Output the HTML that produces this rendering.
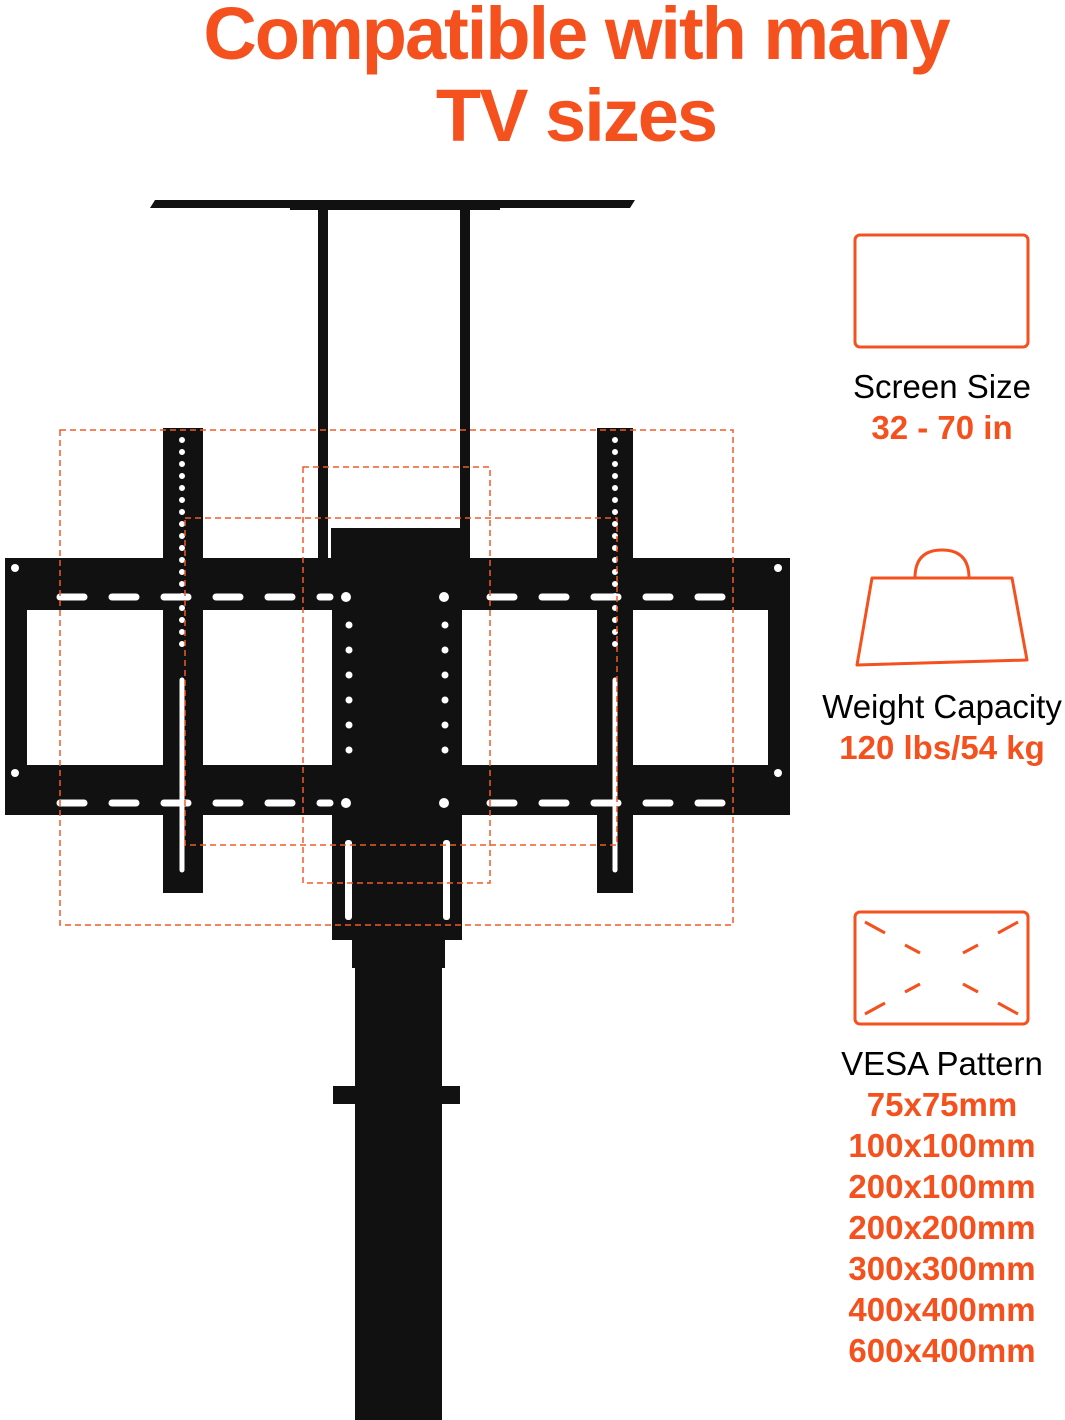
<!DOCTYPE html>
<html><head><meta charset="utf-8"><style>
body{margin:0;width:1065px;height:1420px;background:#fff;position:relative;overflow:hidden;font-family:"Liberation Sans",sans-serif}
.t{position:absolute;left:0;width:1152px;text-align:center;color:#f4511e;font-weight:bold;font-size:74px;letter-spacing:-2px;line-height:80px}
.r{position:absolute;left:800px;width:284px;text-align:center;font-size:33px;line-height:41px}
.o{color:#f4511e;font-weight:bold}
</style></head><body>
<div class="t" style="top:-6px">Compatible with many</div>
<div class="t" style="top:76px">TV sizes</div>
<svg width="1065" height="1420" style="position:absolute;left:0;top:0">
<g fill="#111">
<polygon points="150,208 155,200 635,200 630,208"/>
<rect x="290" y="205" width="210" height="5"/>
<rect x="318" y="205" width="10" height="355"/>
<rect x="460" y="205" width="10" height="355"/>
<rect x="331" y="528" width="131" height="34"/>
<rect x="332" y="560" width="130" height="380"/>
<rect x="352" y="938" width="93" height="30"/>
<rect x="355" y="965" width="87" height="455"/>
<rect x="333" y="1086" width="127" height="18"/>
<rect x="5" y="558" width="785" height="52"/>
<rect x="5" y="765" width="785" height="50"/>
<rect x="5" y="558" width="22" height="257"/>
<rect x="768" y="558" width="22" height="257"/>
<rect x="163" y="428" width="40" height="465"/>
<rect x="597" y="428" width="36" height="465"/>
</g>
<g stroke="#fff" stroke-width="7" stroke-linecap="round" stroke-dasharray="24 28">
<line x1="60" y1="597" x2="330" y2="597"/><line x1="490" y1="597" x2="740" y2="597"/>
<line x1="60" y1="803" x2="330" y2="803"/><line x1="490" y1="803" x2="740" y2="803"/>
</g>
<g fill="#fff">
<circle cx="15" cy="568" r="4"/><circle cx="778" cy="568" r="4"/><circle cx="15" cy="773" r="4"/><circle cx="778" cy="773" r="4"/>
<circle cx="346" cy="597" r="5"/><circle cx="444" cy="597" r="5"/><circle cx="346" cy="803" r="5"/><circle cx="444" cy="803" r="5"/>
<circle cx="349" cy="625" r="3.5"/><circle cx="349" cy="650" r="3.5"/><circle cx="349" cy="675" r="3.5"/><circle cx="349" cy="700" r="3.5"/><circle cx="349" cy="725" r="3.5"/><circle cx="349" cy="750" r="3.5"/>
<circle cx="445" cy="625" r="3.5"/><circle cx="445" cy="650" r="3.5"/><circle cx="445" cy="675" r="3.5"/><circle cx="445" cy="700" r="3.5"/><circle cx="445" cy="725" r="3.5"/><circle cx="445" cy="750" r="3.5"/>
<rect x="345" y="840" width="7" height="80" rx="3"/><rect x="443" y="840" width="7" height="80" rx="3"/>
</g>
<g stroke="#fff" stroke-width="6" stroke-linecap="round" stroke-dasharray="0 12">
<line x1="182" y1="440" x2="182" y2="650"/><line x1="615" y1="440" x2="615" y2="650"/>
</g>
<g stroke="#fff" stroke-width="5" stroke-linecap="round">
<line x1="182" y1="680" x2="182" y2="870"/><line x1="615" y1="680" x2="615" y2="870"/>
</g>
<g fill="none" stroke="#f05a28" stroke-width="1.5" stroke-dasharray="6 4">
<rect x="60" y="430" width="673" height="495"/>
<rect x="303" y="467" width="187" height="416"/>
<rect x="185" y="518" width="432" height="327"/>
</g>
<g fill="none" stroke="#f4511e" stroke-width="3">
<rect x="855" y="235" width="173" height="112" rx="5"/>
<path d="M915,578 Q915,550 942,550 Q969,550 969,578"/>
<path d="M872,578 L1012,578 L1027,660 L857,665 Z" stroke-linejoin="round"/>
<rect x="855" y="912" width="173" height="112" rx="5"/>
<path d="M865,922 l20,11 M905,945 l15,8 M1018,922 l-20,11 M978,945 l-15,8 M865,1014 l20,-11 M905,992 l15,-8 M1018,1014 l-20,-11 M978,992 l-15,-8"/>
</g>
</svg>
<div class="r" style="top:366px">Screen Size<br><span class="o">32 - 70 in</span></div>
<div class="r" style="top:686px">Weight Capacity<br><span class="o">120 lbs/54 kg</span></div>
<div class="r" style="top:1043px">VESA Pattern<br><span class="o">75x75mm<br>100x100mm<br>200x100mm<br>200x200mm<br>300x300mm<br>400x400mm<br>600x400mm</span></div>
</body></html>
